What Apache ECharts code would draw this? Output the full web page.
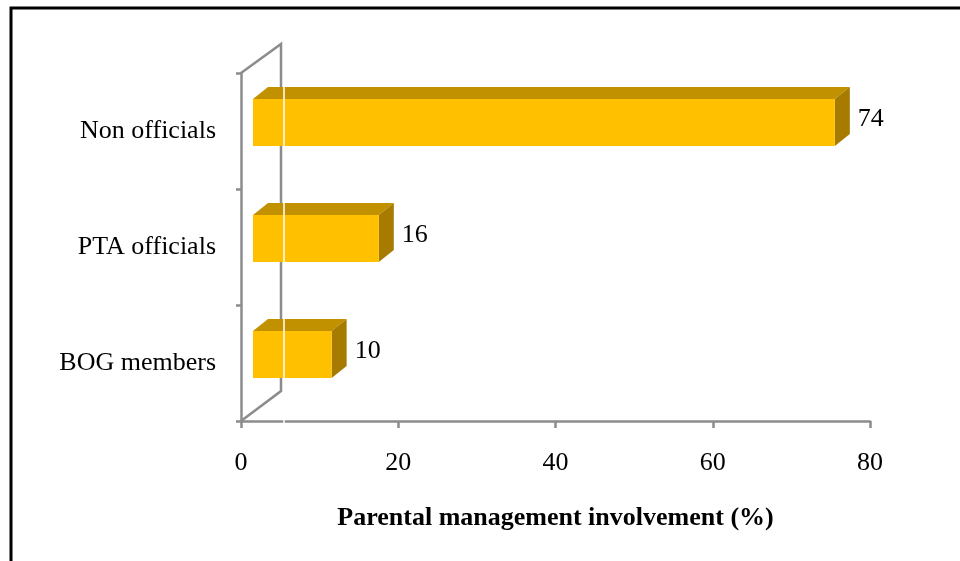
<!DOCTYPE html>
<html>
<head>
<meta charset="utf-8">
<script src="https://cdn.jsdelivr.net/npm/echarts@6/dist/echarts.min.js"></script>
<style>
  html, body { margin: 0; padding: 0; background: #fff; }
  #chart { width: 960px; height: 561px; }
</style>
</head>
<body>
<div id="chart"></div>
<script>
// Parental management involvement by group (%)
const categories = ['BOG members', 'PTA officials', 'Non officials'];
const involvement = [10, 16, 74];
const xTicks = [0, 20, 40, 60, 80];

const FONT = "'Liberation Serif', 'Times New Roman', serif";
const AXIS_GREY = '#8c8c8c';
const FRONT = '#FFC000';
const TOP = '#C29100';
const SIDE = '#A67B00';

const chart = echarts.init(document.getElementById('chart'), null, { renderer: 'canvas' });

// 3D bar: front face, top bevel and right side, plus the value label
function renderBar(params, api) {
  const v = api.value(0);
  const i = api.value(1);
  const p0 = api.coord([0, i]);
  const p1 = api.coord([v, i]);
  const band = api.size([0, 1])[1];
  const shift = 12, dx = 15, dy = 12;
  const top = p0[1] - band * 0.276;
  const bottom = top + band * 0.405;
  const xl = p0[0] + shift;
  const xr = p1[0] + shift;
  return {
    type: 'group',
    children: [
      { type: 'polygon', shape: { points: [[xl, top], [xl + dx, top - dy], [xr + dx, top - dy], [xr, top]] },
        style: { fill: TOP } },
      { type: 'polygon', shape: { points: [[xr, top], [xr + dx, top - dy], [xr + dx, bottom - dy], [xr, bottom]] },
        style: { fill: SIDE } },
      { type: 'rect', shape: { x: xl, y: top, width: xr - xl, height: bottom - top },
        style: { fill: FRONT } },
      { type: 'text', style: { text: String(v), x: xr + dx + 8, y: (top + bottom) / 2 - 3,
        textVerticalAlign: 'middle', textAlign: 'left', fill: '#000', font: '26px ' + FONT } }
    ]
  };
}

// Side wall of the 3D plot area
function renderWall(params, api) {
  const cs = params.coordSys;
  const bx = 40, by = 29;
  return {
    type: 'polyline',
    shape: { points: [[cs.x, cs.y], [cs.x + bx, cs.y - by], [cs.x + bx, cs.y + cs.height - by - 1], [cs.x, cs.y + cs.height]] },
    style: { stroke: AXIS_GREY, lineWidth: 2.5, fill: null }
  };
}

// Thin light seam where the back wall meets the floor
function renderSeam(params, api) {
  const cs = params.coordSys;
  return {
    type: 'line',
    shape: { x1: cs.x + 43, y1: cs.y + 14, x2: cs.x + 43, y2: cs.y + cs.height + 4 },
    style: { stroke: '#ffffff', lineWidth: 1.5 }
  };
}

chart.setOption({
  animation: false,
  backgroundColor: '#ffffff',
  textStyle: { fontFamily: FONT },
  graphic: [{
    type: 'rect', shape: { x: 11, y: 8, width: 1000, height: 700 },
    style: { fill: null, stroke: '#000', lineWidth: 3 }, z: 100
  }],
  grid: { left: 241, right: 90, top: 73, bottom: 140, containLabel: false },
  xAxis: {
    type: 'value',
    min: xTicks[0], max: xTicks[xTicks.length - 1], interval: 20,
    name: 'Parental management involvement (%)',
    nameLocation: 'middle', nameGap: 84,
    nameTextStyle: { fontFamily: FONT, fontSize: 26, fontWeight: 'bold', color: '#000' },
    axisLine: { show: true, lineStyle: { color: AXIS_GREY, width: 2.5 } },
    axisTick: { show: true, inside: false, length: 7, lineStyle: { color: AXIS_GREY, width: 2.5 } },
    axisLabel: { color: '#000', fontFamily: FONT, fontSize: 26, margin: 29 },
    splitLine: { show: false }
  },
  yAxis: {
    type: 'category',
    data: categories,
    axisLine: { show: true, lineStyle: { color: AXIS_GREY, width: 2.5 } },
    axisTick: { show: true, inside: false, length: 5, lineStyle: { color: AXIS_GREY, width: 2.5 } },
    axisLabel: { color: '#000', fontFamily: FONT, fontSize: 26, margin: 25 },
    splitLine: { show: false }
  },
  series: [
    { type: 'custom', name: 'wall', renderItem: renderWall, data: [[0, 0]], z: 1, clip: false, silent: true },
    { type: 'custom', name: 'involvement', renderItem: renderBar,
      data: involvement.map((v, i) => [v, i]), encode: { x: 0, y: 1 }, z: 2, clip: false },
    { type: 'custom', name: 'seam', renderItem: renderSeam, data: [[0, 0]], z: 3, clip: false, silent: true }
  ]
});
</script>
</body>
</html>
